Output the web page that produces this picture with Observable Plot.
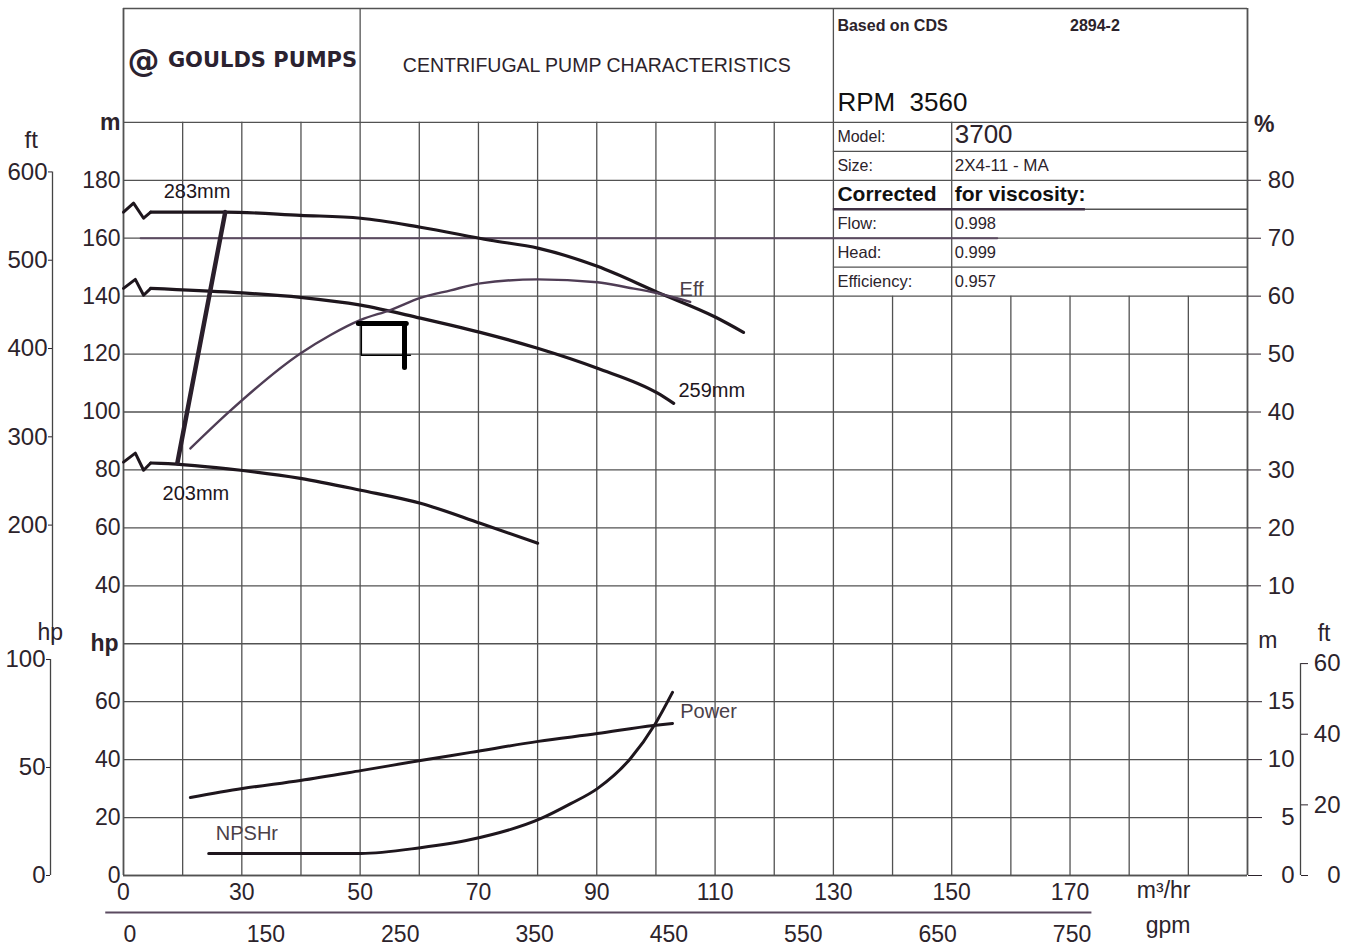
<!DOCTYPE html>
<html><head><meta charset="utf-8">
<script src="https://cdn.jsdelivr.net/npm/d3@7"></script>
<script src="https://cdn.jsdelivr.net/npm/@observablehq/plot@0.6"></script>
<style>
body{margin:0;background:#fff;}
#chart svg{display:block;}
</style></head><body><div id="chart"></div>
<script>
// ---------------- data ----------------
// flow axis (m3/hr); the printed "0" sits on the left frame
const flowTicks = [10, 30, 50, 70, 90, 110, 130, 150, 170];
const flowTickLabels = ["0", "30", "50", "70", "90", "110", "130", "150", "170"];
const gpmTicks = [150, 250, 350, 450, 550, 650, 750];
const headTicks = [40, 60, 80, 100, 120, 140, 160, 180];      // m
const powerTicks = [0, 20, 40, 60];                            // inner "hp"
const effTicks = [10, 20, 30, 40, 50, 60, 70, 80];             // %
const npshTicks = [0, 5, 10, 15];                              // m
const ftHeadTicks = [200, 300, 400, 500, 600];                 // ft
const hpOuterTicks = [0, 50, 100];                             // hp
const ftNpshTicks = [0, 20, 40, 60];                           // ft

// head curves [flow m3/hr, head m] (first 4 points = break squiggle)
const head283 = [[10,169.0],[11.7,172.1],[13.4,166.9],[14.6,169.0],[27.2,169.0],[39.9,167.9],[50.1,166.9],[60.2,163.8],[72.0,159.3],[80.2,156.5],[90.1,150.3],[100.3,141.3],[110.1,132.7],[114.8,127.5]];
const head259 = [[10,142.7],[12.0,145.8],[13.4,140.3],[14.6,142.7],[28.6,141.3],[39.9,139.6],[50.1,136.9],[60.2,132.4],[65.3,130.0],[70.3,127.5],[80.0,122.0],[90.1,115.1],[100.3,106.5],[103.0,103.0]];
const head203 = [[10,82.7],[12.0,85.8],[13.4,79.9],[14.6,82.4],[16.3,82.3],[29.8,79.9],[39.9,77.1],[50.1,73.0],[60.2,68.5],[70.3,61.6],[80.0,54.7]];
// efficiency [flow, %]
const effCurve = [[21.3,33.7],[27.6,39.8],[39.9,50.1],[45.0,53.3],[50.1,55.9],[55.1,57.6],[60.2,59.7],[65.3,61.0],[70.3,62.2],[80.0,62.9],[90.1,62.4],[95.2,61.5],[100.3,60.5],[105.8,59.0]];
// power [flow, inner hp units]
const powerCurve = [[21.3,26.9],[30.1,30.0],[39.9,32.8],[50.1,36.2],[60.2,39.7],[68.7,42.5],[80.1,46.3],[90.1,49.0],[99.6,51.8],[102.8,52.5]];
// NPSHr [flow, m]
const npshCurve = [[24.4,1.9],[50.1,1.9],[60.2,2.4],[68.7,3.1],[80.5,4.9],[85.6,6.2],[90.1,7.5],[95.7,10.1],[99.9,13.1],[102.8,15.8]];
// minimum-flow / trim line [flow, head m]
const trimLine = [[19.1,82.3],[27.2,169.0]];
// hand-drawn bracket mark [flow, head m]
const bracketBar = [[49.7,130.6],[57.8,130.6]];
const bracketPost = [[57.5,130.6],[57.5,115.4]];
const bracketThin = [[50.2,130.6],[50.2,119.6],[58.5,119.6]];
// purple reference line at 160 m
const refLine = [[12.9,160],[157.7,160]];
// curve labels
const curveLabels = [
  {text:"283mm", x:16.8, y:176.2, kind:"head"},
  {text:"259mm", x:103.8, y:107.5, kind:"head"},
  {text:"203mm", x:16.6, y:72.0, kind:"head"},
  {text:"Eff", x:104.0, y:142.4, kind:"other"},
  {text:"Power", x:104.1, y:-3.4, kind:"other"},
  {text:"NPSHr", x:25.6, y:-45.5, kind:"other"}
];
// header texts
const brand = "GOULDS PUMPS";
const chartTitle = "CENTRIFUGAL PUMP CHARACTERISTICS";
const basedOn = "Based on CDS";
const cdsNumber = "2894-2";
const rpmText = "RPM  3560";
const specLabels = ["Model:", "Size:"];
const specValues = ["3700", "2X4-11 - MA"];
const corrTitle = ["Corrected", "for viscosity:"];
const corrLabels = ["Flow:", "Head:", "Efficiency:"];
const corrValues = ["0.998", "0.999", "0.957"];

// ---------------- unit mapping onto the shared vertical scale ----------------
const ftToM = f => f * 0.3048;
const yEff = e => 2 * e + 20;
const yPower = p => p - 60;
const yNpsh = n => 4 * n - 60;
const yHpOuter = h => h / 1.341 - 60;
const M3_PER_GPM = 1 / 4.403;

// layout constants (grid structure)
const X0 = 10, X1 = 200, Y0 = -60, YGRID = 200, YTOP = 239.3;
const TABLE_X = 130, TABLE_MID = 150, TABLE_BOTTOM = 140, HEADER_DIV = 50;

const ink = "#2c232b";
const gridC = "#525252";
const curveC = "#1e161d";
const purple = "#4f3d55";
const F = "Liberation Sans, Arial, sans-serif";

const gridX = d3.range(X0, X1 + 1, 10);
const gridY = d3.range(Y0, YGRID + 1, 20);
const vTop = x => (x === X0 || x === HEADER_DIV || x === TABLE_X || x === X1) ? YTOP
  : (x === TABLE_MID ? YGRID : (x > TABLE_X ? TABLE_BOTTOM : YGRID));
const labelMap = new Map(flowTicks.map((d, i) => [d, flowTickLabels[i]]));

const xy = {x: d => d[0], y: d => d[1]};
const rowY = i => 195 - 10 * i;

const chart = Plot.plot({
  width: 1357, height: 947,
  marginLeft: 123, marginRight: 110, marginTop: 8, marginBottom: 72,
  x: {type: "linear", domain: [X0, X1], axis: null},
  y: {type: "linear", domain: [Y0, YTOP], axis: null},
  style: {fontFamily: F, background: "#fff", color: ink},
  marks: [
    // grid
    Plot.ruleX(gridX, {x: d => d, y1: Y0, y2: vTop, stroke: gridC, strokeWidth: 1.3}),
    Plot.ruleY(gridY, {y: d => d, x1: X0, x2: X1, stroke: gridC, strokeWidth: 1.3}),
    Plot.ruleY([190, 170, 150], {y: d => d, x1: TABLE_X, x2: X1, stroke: gridC, strokeWidth: 1.3}),
    Plot.ruleY([YTOP], {y: d => d, x1: X0, x2: X1, stroke: gridC, strokeWidth: 1.6}),
    Plot.ruleX([X0, X1], {x: d => d, y1: Y0, y2: YTOP, stroke: gridC, strokeWidth: 1.6}),
    Plot.ruleY([Y0], {y: d => d, x1: X0, x2: X1, stroke: gridC, strokeWidth: 1.6}),
    Plot.line(refLine, {...xy, stroke: "#5b4a60", strokeWidth: 2}),
    Plot.ruleY([170], {y: d => d, x1: TABLE_X, x2: 172.6, stroke: "#3f3044", strokeWidth: 2.6}),

    // curves
    Plot.line(head283.slice(0, 4), {...xy, stroke: curveC, strokeWidth: 3}),
    Plot.line(head283.slice(3), {...xy, stroke: curveC, strokeWidth: 3.2, curve: "monotone-x"}),
    Plot.line(head259.slice(0, 4), {...xy, stroke: curveC, strokeWidth: 3}),
    Plot.line(head259.slice(3), {...xy, stroke: curveC, strokeWidth: 3.2, curve: "monotone-x"}),
    Plot.line(head203.slice(0, 4), {...xy, stroke: curveC, strokeWidth: 3}),
    Plot.line(head203.slice(3), {...xy, stroke: curveC, strokeWidth: 3.2, curve: "monotone-x"}),
    Plot.line(effCurve, {x: d => d[0], y: d => yEff(d[1]), stroke: purple, strokeWidth: 2.4, curve: "monotone-x"}),
    Plot.line(powerCurve, {x: d => d[0], y: d => yPower(d[1]), stroke: curveC, strokeWidth: 3, curve: "monotone-x"}),
    Plot.line(npshCurve, {x: d => d[0], y: d => yNpsh(d[1]), stroke: curveC, strokeWidth: 3, curve: "monotone-x"}),
    Plot.line(trimLine, {...xy, stroke: "#2a1f2b", strokeWidth: 4.5}),
    Plot.line(bracketBar, {...xy, stroke: "#000", strokeWidth: 5}),
    Plot.line(bracketPost, {...xy, stroke: "#000", strokeWidth: 5}),
    Plot.line(bracketThin, {...xy, stroke: "#000", strokeWidth: 1.5}),

    // curve labels
    Plot.text(curveLabels.filter(d => d.kind === "head"), {x: "x", y: "y", text: "text", textAnchor: "start", fontSize: 20, fill: "#1e161d"}),
    Plot.text(curveLabels.filter(d => d.kind === "other"), {x: "x", y: "y", text: "text", textAnchor: "start", fontSize: 20, fill: "#4a4048"}),

    // left inner axes
    Plot.axisY(headTicks, {anchor: "left", tickSize: 0, tickPadding: 3, fontSize: 23, color: ink, label: null}),
    Plot.axisY(powerTicks.map(yPower), {anchor: "left", tickSize: 0, tickPadding: 3, fontSize: 23, color: ink, label: null, tickFormat: d => Math.round(d + 60)}),
    Plot.text(["m"], {y: [YGRID], frameAnchor: "left", dx: -3, textAnchor: "end", fontSize: 23, fontWeight: "bold", fill: ink}),
    Plot.text(["hp"], {y: [yPower(80)], frameAnchor: "left", dx: -5, textAnchor: "end", fontSize: 23, fontWeight: "bold", fill: ink}),

    // left outer axes (ft head, hp)
    Plot.ruleX([X0], {x: d => d, y1: ftToM(600), y2: ftToM(66), dx: -71, stroke: "#444", strokeWidth: 1.3}),
    Plot.axisY(ftHeadTicks.map(ftToM), {anchor: "left", dx: -71, tickSize: 4, tickPadding: 1, fontSize: 24, color: ink, label: null, tickFormat: d => Math.round(d / 0.3048)}),
    Plot.text(["ft"], {y: [193.8], frameAnchor: "left", dx: -99, fontSize: 24, fill: ink}),
    Plot.ruleX([X0], {x: d => d, y1: yHpOuter(0), y2: yHpOuter(100), dx: -73, stroke: "#444", strokeWidth: 1.3}),
    Plot.axisY(hpOuterTicks.map(yHpOuter), {anchor: "left", dx: -73, tickSize: 4, tickPadding: 1, fontSize: 24, color: ink, label: null, tickFormat: d => Math.round((d + 60) * 1.341)}),
    Plot.text(["hp"], {y: [23.9], frameAnchor: "left", dx: -86, fontSize: 23, fill: ink}),

    // right axes
    Plot.axisY(effTicks.map(yEff), {anchor: "right", tickSize: 13, tickPadding: 34, textAnchor: "end", fontSize: 24, color: ink, label: null, tickFormat: d => Math.round((d - 20) / 2)}),
    Plot.text(["%"], {y: [199.3], frameAnchor: "right", dx: 27, fontSize: 23, fontWeight: "bold", fill: ink}),
    Plot.axisY(npshTicks.map(yNpsh), {anchor: "right", tickSize: 14, tickPadding: 33, textAnchor: "end", fontSize: 24, color: ink, label: null, tickFormat: d => Math.round((d + 60) / 4)}),
    Plot.text(["m"], {y: [21.1], frameAnchor: "right", dx: 30, fontSize: 23, fill: ink}),
    Plot.ruleX([X1], {x: d => d, y1: Y0, y2: yNpsh(ftToM(60)), dx: 53, stroke: "#444", strokeWidth: 1.3}),
    Plot.axisY(ftNpshTicks.map(f => yNpsh(ftToM(f))), {anchor: "right", dx: 53, tickSize: 7, tickPadding: 33, textAnchor: "end", fontSize: 24, color: ink, label: null, tickFormat: d => Math.round((d + 60) / 4 / 0.3048)}),
    Plot.text(["ft"], {y: [23.5], frameAnchor: "right", dx: 83, fontSize: 23, fill: ink}),

    // bottom axes
    Plot.axisX(flowTicks, {anchor: "bottom", tickSize: 0, tickPadding: 8, fontSize: 23, color: ink, label: null, tickFormat: d => labelMap.get(d)}),
    Plot.text(["m³/hr"], {frameAnchor: "bottom-right", dx: -57, dy: 22, fontSize: 23, fill: ink}),
    Plot.ruleY([Y0], {y: d => d, x1: 7, x2: 173.7, dy: 37, stroke: "#5b4a60", strokeWidth: 2.2}),
    Plot.text(gpmTicks, {x: d => d * M3_PER_GPM, frameAnchor: "bottom", dy: 66, text: d => String(d), fontSize: 23, fill: ink}),
    Plot.text(["0"], {frameAnchor: "bottom-left", dy: 66, fontSize: 23, fill: ink}),
    Plot.text(["gpm"], {frameAnchor: "bottom-right", dx: -57, dy: 57, fontSize: 23, fill: ink}),

    // header
    Plot.text(["@"], {x: [X0], y: [221.4], dx: 4, textAnchor: "start", fontSize: 32, fontWeight: "bold", fontFamily: "DejaVu Sans", fill: "#2b2230"}),
    Plot.text([brand], {x: [HEADER_DIV], y: [221.4], dx: -3, textAnchor: "end", fontSize: 21, fontWeight: "bold", fontFamily: "DejaVu Sans", fill: "#2b2230"}),
    Plot.text([chartTitle], {x: [(HEADER_DIV + TABLE_X) / 2], y: [219.4], fontSize: 19.5, fill: ink}),
    Plot.text([basedOn], {x: [TABLE_X], y: [233.2], dx: 4, textAnchor: "start", fontSize: 16, fontWeight: "bold", fill: ink}),
    Plot.text([cdsNumber], {x: [170], y: [233.2], textAnchor: "start", fontSize: 16, fontWeight: "bold", fill: ink}),
    Plot.text([rpmText], {x: [TABLE_X], y: [206.9], dx: 4, textAnchor: "start", fontSize: 26, fill: "#111"}),
    Plot.text(specLabels, {x: () => TABLE_X, y: (d, i) => rowY(i), dx: 4, textAnchor: "start", fontSize: 16, fill: ink}),
    Plot.text(specValues, {x: () => TABLE_MID, y: (d, i) => rowY(i) + (i === 0 ? 0.8 : 0), dx: 3, textAnchor: "start", fontSize: (d, i) => i === 0 ? 26 : 17, fill: ink}),
    Plot.text([corrTitle[0]], {x: [TABLE_X], y: [rowY(2)], dx: 4, textAnchor: "start", fontSize: 21, fontWeight: "bold", fill: "#111"}),
    Plot.text([corrTitle[1]], {x: [TABLE_MID], y: [rowY(2)], dx: 3, textAnchor: "start", fontSize: 21, fontWeight: "bold", fill: "#111"}),
    Plot.text(corrLabels, {x: () => TABLE_X, y: (d, i) => rowY(i + 3), dx: 4, textAnchor: "start", fontSize: 16.5, fill: ink}),
    Plot.text(corrValues, {x: () => TABLE_MID, y: (d, i) => rowY(i + 3), dx: 3, textAnchor: "start", fontSize: 16.5, fill: ink})
  ]
});
document.getElementById("chart").appendChild(chart);
</script>
</body></html>
